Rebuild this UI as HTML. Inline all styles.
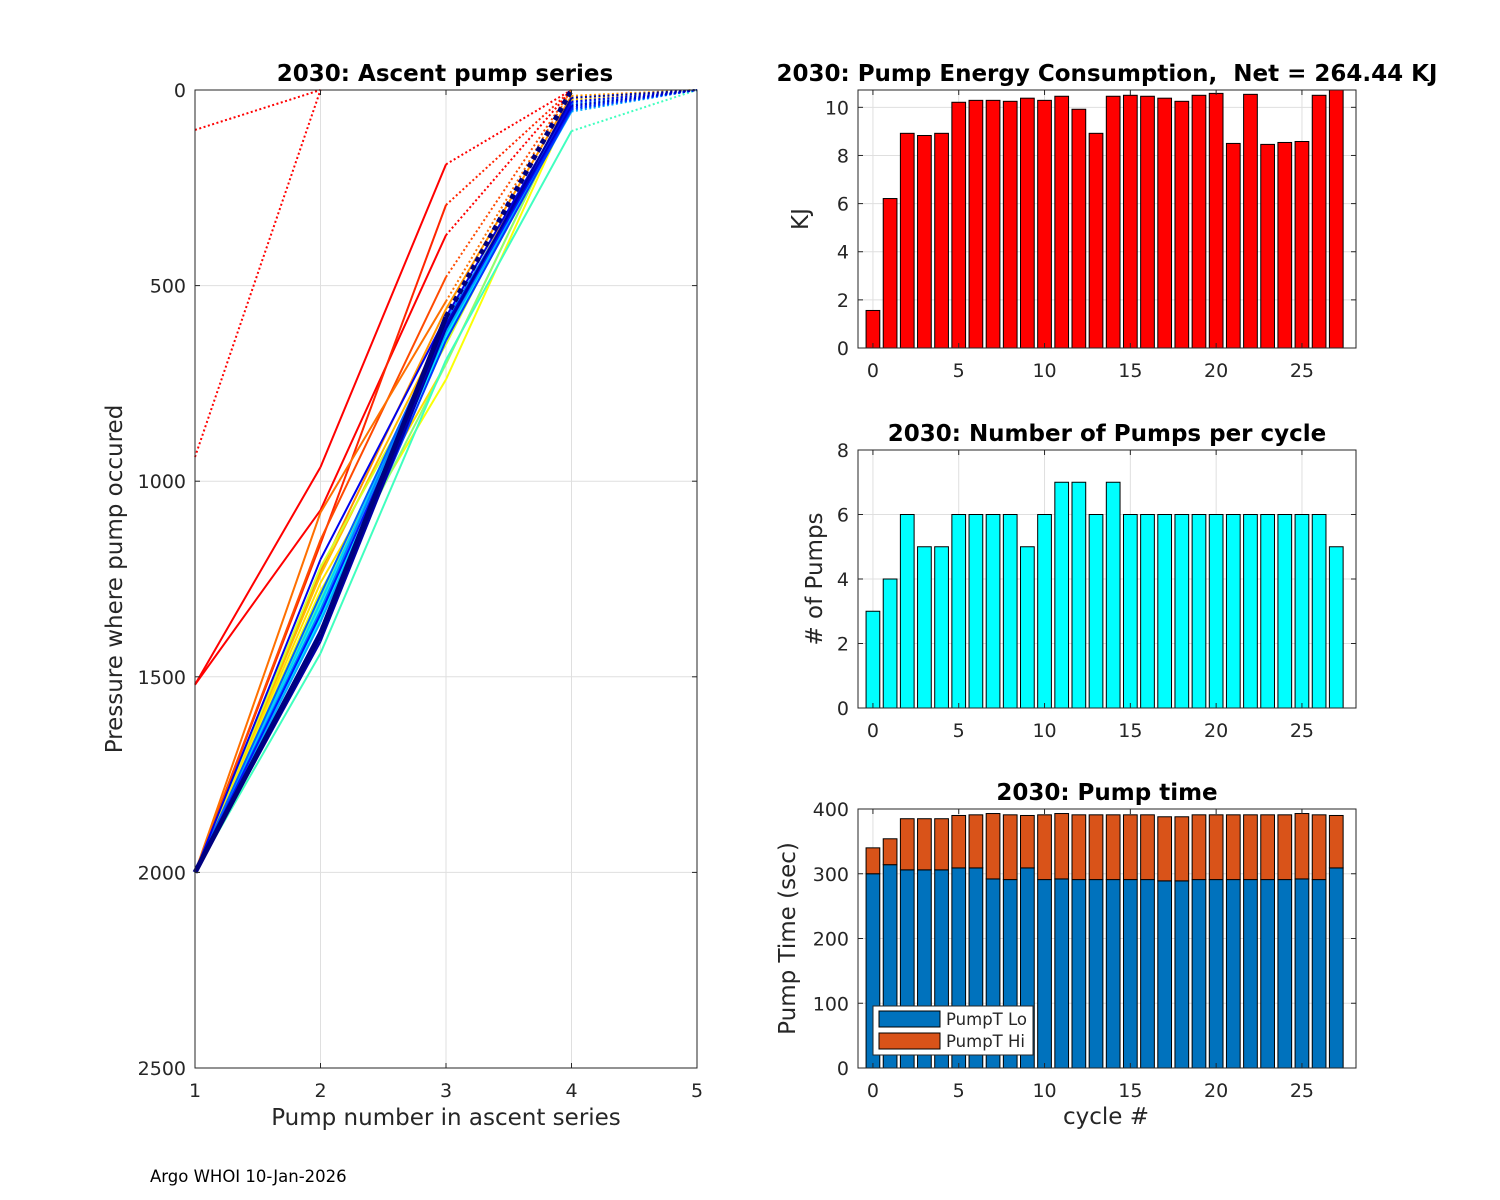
<!DOCTYPE html>
<html><head><meta charset="utf-8"><style>
body{margin:0;background:#fff;}
svg{display:block;font-family:"DejaVu Sans","Liberation Sans",sans-serif;}
.tk{font-size:19px;fill:#262626;}
.ti{font-size:23px;font-weight:bold;fill:#000;}
.lb{font-size:23px;fill:#262626;}
</style></head><body>
<svg id="fig" width="1500" height="1200" viewBox="0 0 1500 1200">
<rect width="1500" height="1200" fill="#fff"/>
<g id="left"></g>
<g id="energy"></g>
<g id="pumps"></g>
<g id="ptime"></g>
<text x="150" y="1182" font-size="16.5" fill="#000">Argo WHOI 10-Jan-2026</text>
</svg>
<script>
const NS="http://www.w3.org/2000/svg";
// ---- data ----
const cycles=[0,1,2,3,4,5,6,7,8,9,10,11,12,13,14,15,16,17,18,19,20,21,22,23,24,25,26,27];
const energyKJ=[1.56,6.21,8.92,8.83,8.92,10.21,10.29,10.29,10.25,10.38,10.29,10.46,9.92,8.92,10.46,10.5,10.46,10.38,10.25,10.5,10.58,8.5,10.54,8.46,8.54,8.58,10.5,10.75];
const pumpCount=[3,4,6,5,5,6,6,6,6,5,6,7,7,6,7,6,6,6,6,6,6,6,6,6,6,6,6,5];
const pumpLo=[300,314,306,306,306,309,309,292,291,309,291,292,291,291,291,291,291,289,289,291,291,291,291,291,291,292,291,309];
const pumpHi=[40,40,79,79,79,81,82,101,100,81,100,101,100,100,100,100,100,99,99,100,100,100,100,100,100,101,100,81];
const energyTicks=[0,2,4,6,8,10];
const pumpTicks=[0,2,4,6,8];
const timeTicks=[0,100,200,300,400];
const cycleTicks=[0,5,10,15,20,25];
const pumpNumTicks=[1,2,3,4,5];
const pressTicks=[0,500,1000,1500,2000,2500];
// ascent series pressures (pump 1..n)
const ascentSeries=[
[102,0],[938,0],[1520,964,190,0],[1520,1074,371,0],[2000,1160,294,0],
[2000,1150,478,0],[2000,1080,540,0],[2000,1230,560,15,0],[2000,1240,600,25,0],
[2000,1260,700,30,0],[2000,1280,740,35,0],[2000,1220,650,20,0],[2000,1300,620,40,0],
[2000,1330,700,30,0],[2000,1300,640,45,0],[2000,1440,690,105,0],[2000,1320,610,50,0],
[2000,1350,630,45,0],[2000,1310,600,40,0],[2000,1360,620,55,0],[2000,1330,590,50,0],
[2000,1290,600,35,0],[2000,1380,640,50,0],[2000,1340,610,45,0],[2000,1200,580,30,0],
[2000,1400,600,40,0],[2000,1410,610,20,0],[2000,1390,580,0]];
// ---- helpers ----
function el(p,tag,at){const e=document.createElementNS(NS,tag);for(const k in at)e.setAttribute(k,at[k]);p.appendChild(e);return e;}
function txt(p,x,y,s,cls,anchor){const t=el(p,'text',{x:x,y:y,'class':cls,'text-anchor':anchor||'middle'});t.textContent=s;return t;}
function jet(t){const c=v=>Math.round(255*Math.max(0,Math.min(1,v)));return `rgb(${c(1.5-Math.abs(4*t-3))},${c(1.5-Math.abs(4*t-2))},${c(1.5-Math.abs(4*t-1))})`;}

// ---- left chart ----
(function(){
const g=document.getElementById('left');
const L=195,R=697,T=90,B=1068;
const xs=v=>L+(v-1)/4*(R-L), ys=v=>T+v/2500*(B-T);
pumpNumTicks.forEach(v=>{if(v>1&&v<5){const gl=el(g,'line',{x1:xs(v),x2:xs(v),y1:T,y2:B,stroke:'#dfdfdf'});}});
pressTicks.forEach(v=>{if(v>0&&v<2500){const gl=el(g,'line',{x1:L,x2:R,y1:ys(v),y2:ys(v),stroke:'#dfdfdf'});}});
const n=ascentSeries.length;
ascentSeries.forEach((s,i)=>{
 const t=0.875*(1-Math.max(0,Math.min(1,(i-3)/24)));
 const col=jet(t); const last=i===n-1; const w=last?5:2;
 const sg=el(g,'g',{});
 
 
 for(let k=0;k<s.length-1;k++){
  const dotted=(k===s.length-2);
  const a={x1:xs(k+1),y1:ys(s[k]),x2:xs(k+2),y2:ys(s[k+1]),stroke:col,'stroke-width':w,fill:'none'};
  if(dotted)a['stroke-dasharray']=last?'5 4':'2 2.5';
  el(sg,'line',a);
 }
});
el(g,'rect',{x:L,y:T,width:R-L,height:B-T,fill:'none',stroke:'#262626','stroke-width':1});
pumpNumTicks.forEach(v=>{el(g,'line',{x1:xs(v),x2:xs(v),y1:B,y2:B-5,stroke:'#262626'});el(g,'line',{x1:xs(v),x2:xs(v),y1:T,y2:T+5,stroke:'#262626'});const t=txt(g,xs(v),1097,String(v),'tk');});
pressTicks.forEach(v=>{el(g,'line',{x1:L,x2:L+5,y1:ys(v),y2:ys(v),stroke:'#262626'});el(g,'line',{x1:R,x2:R-5,y1:ys(v),y2:ys(v),stroke:'#262626'});const t=txt(g,L-9,ys(v)+7,String(v),'tk','end');});
let t=txt(g,445,81,'2030: Ascent pump series','ti');
t=txt(g,446,1125,'Pump number in ascent series','lb');
t=txt(g,0,0,'Pressure where pump occured','lb');t.setAttribute('transform','translate(122,579) rotate(-90)');
})();

// ---- bar charts ----
const BL=858,BR=1356,XMIN=-0.87,XMAX=28.15;
const bx=v=>BL+(v-XMIN)/(XMAX-XMIN)*(BR-BL);
function axesFrame(g,T,B,ymax,yt,title,ylab,ylx){
 const ys=v=>B-v/ymax*(B-T);
 cycleTicks.forEach(v=>{const gl=el(g,'line',{x1:bx(v),x2:bx(v),y1:T,y2:B,stroke:'#dfdfdf'});});
 yt.forEach(v=>{const gl=el(g,'line',{x1:BL,x2:BR,y1:ys(v),y2:ys(v),stroke:'#dfdfdf'});});
 let t=txt(g,(BL+BR)/2,T-9,title,'ti');
 t=txt(g,0,0,ylab,'lb');t.setAttribute('transform',`translate(${ylx},${(T+B)/2}) rotate(-90)`);
 return ys;
}
function axesTop(g,T,B,ymax,yt){
 const ys=v=>B-v/ymax*(B-T);
 el(g,'rect',{x:BL,y:T,width:BR-BL,height:B-T,fill:'none',stroke:'#262626'});
 cycleTicks.forEach(v=>{el(g,'line',{x1:bx(v),x2:bx(v),y1:B,y2:B-5,stroke:'#262626'});el(g,'line',{x1:bx(v),x2:bx(v),y1:T,y2:T+5,stroke:'#262626'});const t=txt(g,bx(v),B+29,String(v),'tk');});
 yt.forEach(v=>{el(g,'line',{x1:BL,x2:BL+5,y1:ys(v),y2:ys(v),stroke:'#262626'});el(g,'line',{x1:BR,x2:BR-5,y1:ys(v),y2:ys(v),stroke:'#262626'});const t=txt(g,BL-9,ys(v)+7,String(v),'tk','end');});
}
function bar(g,c,y0,y1,ys,fill,name){
 const hw=0.4*(bx(1)-bx(0));
 const r=el(g,'rect',{x:bx(c)-hw,y:ys(y1),width:2*hw,height:ys(y0)-ys(y1),fill:fill,stroke:'#000','stroke-width':1});
 
 
}
(function(){
 const g=document.getElementById('energy');const T=90,B=348,ym=10.72;
 const ys=axesFrame(g,T,B,ym,energyTicks,'2030: Pump Energy Consumption,  Net = 264.44 KJ','KJ',808);
 cycles.forEach((c,i)=>bar(g,c,0,Math.min(energyKJ[i],ym),ys,'#ff0000','energy-bar-'+c));
 axesTop(g,T,B,ym,energyTicks);
 const tt=g.querySelector('text');
 tt.setAttribute('x',1107);
 tt.setAttribute('style','white-space:pre');
})();
(function(){
 const g=document.getElementById('pumps');const T=450,B=708,ym=8;
 const ys=axesFrame(g,T,B,ym,pumpTicks,'2030: Number of Pumps per cycle','# of Pumps',822);
 cycles.forEach((c,i)=>bar(g,c,0,pumpCount[i],ys,'#00ffff','pumps-bar-'+c));
 axesTop(g,T,B,ym,pumpTicks);
})();
(function(){
 const g=document.getElementById('ptime');const T=809,B=1068,ym=400;
 const ys=axesFrame(g,T,B,ym,timeTicks,'2030: Pump time','Pump Time (sec)',795);
 cycles.forEach((c,i)=>{bar(g,c,0,pumpLo[i],ys,'#0072bd','pumpt-lo-bar-'+c);bar(g,c,pumpLo[i],pumpLo[i]+pumpHi[i],ys,'#d95319','pumpt-hi-bar-'+c);});
 axesTop(g,T,B,ym,timeTicks);
 let t=txt(g,1106,1124,'cycle #','lb');
 const lg=el(g,'g',{});
 
 
 el(lg,'rect',{x:873,y:1006,width:160,height:49,fill:'#fff',stroke:'#262626'});
 el(lg,'rect',{x:879,y:1011,width:61,height:16,fill:'#0072bd',stroke:'#000'});
 el(lg,'rect',{x:879,y:1033,width:61,height:16,fill:'#d95319',stroke:'#000'});
 t=txt(lg,946,1025,'PumpT Lo','tk','start');t.setAttribute('style','font-size:16.5px');
 t=txt(lg,946,1047,'PumpT Hi','tk','start');t.setAttribute('style','font-size:16.5px');
})();
</script>
</body></html>
